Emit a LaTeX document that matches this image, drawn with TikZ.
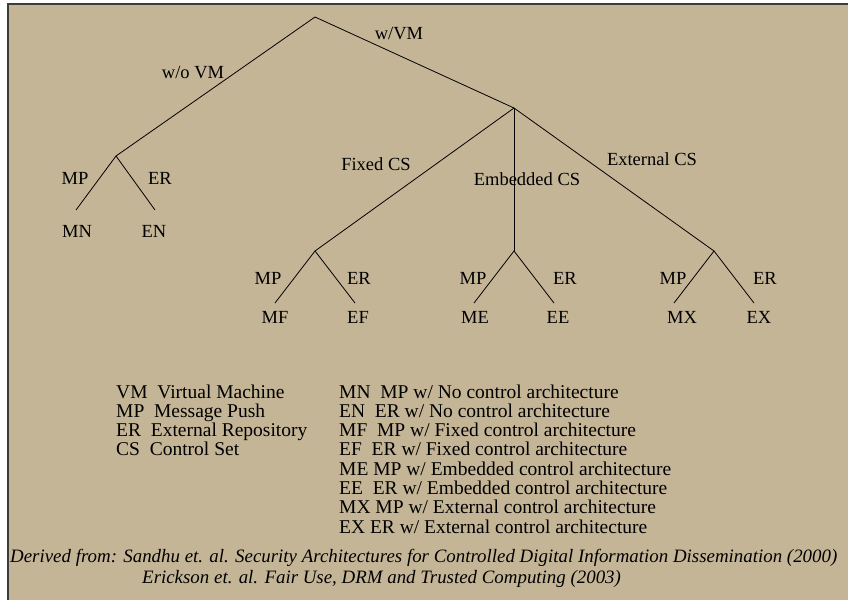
\documentclass[tikz,border=0pt]{standalone}
\usepackage{fontspec}
\setmainfont{Liberation Serif}
\definecolor{panel}{RGB}{197,181,151}
\definecolor{rim}{RGB}{60,60,60}
\begin{document}
\begin{tikzpicture}[x=1pt,y=-1pt,
  branch/.style={draw=black, line width=0.8pt},
  tag/.style={inner sep=0pt, anchor=base, font=\fontsize{18.5}{20}\selectfont},
  legend/.style={inner sep=0pt, anchor=base west, font=\fontsize{19.5}{19}\selectfont},
  credit/.style={inner sep=0pt, anchor=base west, font=\itshape\fontsize{18.9}{19}\selectfont}]
\useasboundingbox (0,0) rectangle (848,600);
\fill[white] (0,0) rectangle (848,600);
\fill[panel] (8,4) rectangle (848,600);
\draw[rim, line width=1.5pt] (8,600) -- (8,4) -- (848,4);

% joints of the tree
\coordinate (root) at (315,17);
\coordinate (novm) at (116,156);
\coordinate (vm) at (514,108);
\coordinate (fixed) at (315,251);
\coordinate (emb) at (514,251);
\coordinate (ext) at (714,251);
% free ends of the leaf branches
\coordinate (mnEnd) at (76,210);
\coordinate (enEnd) at (155,210);
\coordinate (mfEnd) at (275,303);
\coordinate (efEnd) at (355,303);
\coordinate (meEnd) at (474,303);
\coordinate (eeEnd) at (554,303);
\coordinate (mxEnd) at (674,303);
\coordinate (exEnd) at (754,303);

\draw[branch] (novm) -- (root) -- (vm);
\draw[branch] (vm) -- (fixed);
\draw[branch] (vm) -- (emb);
\draw[branch] (vm) -- (ext);
\draw[branch] (mnEnd) -- (novm) -- (enEnd);
\draw[branch] (mfEnd) -- (fixed) -- (efEnd);
\draw[branch] (meEnd) -- (emb) -- (eeEnd);
\draw[branch] (mxEnd) -- (ext) -- (exEnd);

% branch labels
\node[tag] (lwovm) at (193,78) {w/o VM};
\node[tag] (lwvm) at (399,39) {w/VM};
\node[tag] (lfixed) at (376,170) {Fixed CS};
\node[tag] (lemb) at (527,185) {Embedded CS};
\node[tag] (lext) at (652,165) {External CS};
\node[tag] (mp0) at (75,184) {MP};
\node[tag] (er0) at (160,184) {ER};
\node[tag] (mp1) at (268,284) {MP};
\node[tag] (er1) at (359,284) {ER};
\node[tag] (mp2) at (473,284) {MP};
\node[tag] (er2) at (565,284) {ER};
\node[tag] (mp3) at (673,284) {MP};
\node[tag] (er3) at (765,284) {ER};

% leaves
\node[tag] (mn) at (77,237) {MN};
\node[tag] (en) at (154,237) {EN};
\node[tag] (mf) at (275,323) {MF};
\node[tag] (ef) at (358,323) {EF};
\node[tag] (me) at (475,323) {ME};
\node[tag] (ee) at (558,323) {EE};
\node[tag] (mx) at (682,323) {MX};
\node[tag] (ex) at (759,323) {EX};

% abbreviations, left column
\node[legend] (kVM) at (116,398) {VM\ \ Virtual Machine};
\node[legend] (kMP) at (116,417.3) {MP\ \ Message Push};
\node[legend] (kER) at (116,436.6) {ER\ \ External Repository};
\node[legend] (kCS) at (116,455.9) {CS\ \ Control Set};

% leaf meanings, right column
\node[legend] (kMN) at (339,398) {MN\ \ MP w/ No control architecture};
\node[legend] (kEN) at (339,417.3) {EN\ \ ER w/ No control architecture};
\node[legend] (kMF) at (339,436.6) {MF\ \ MP w/ Fixed control architecture};
\node[legend] (kEF) at (339,455.9) {EF\ \ ER w/ Fixed control architecture};
\node[legend] (kME) at (339,475.2) {ME MP w/ Embedded control architecture};
\node[legend] (kEE) at (339,494.5) {EE\ \ ER w/ Embedded control architecture};
\node[legend] (kMX) at (339,513.8) {MX MP w/ External control architecture};
\node[legend] (kEX) at (339,533.1) {EX ER w/ External control architecture};

% sources
\node[credit] (src1) at (10,562.5) {Derived from: Sandhu et. al. Security Architectures for Controlled Digital Information Dissemination (2000)};
\node[credit] (src2) at (142,583.5) {Erickson et. al. Fair Use, DRM and Trusted Computing (2003)};
\end{tikzpicture}
\end{document}
